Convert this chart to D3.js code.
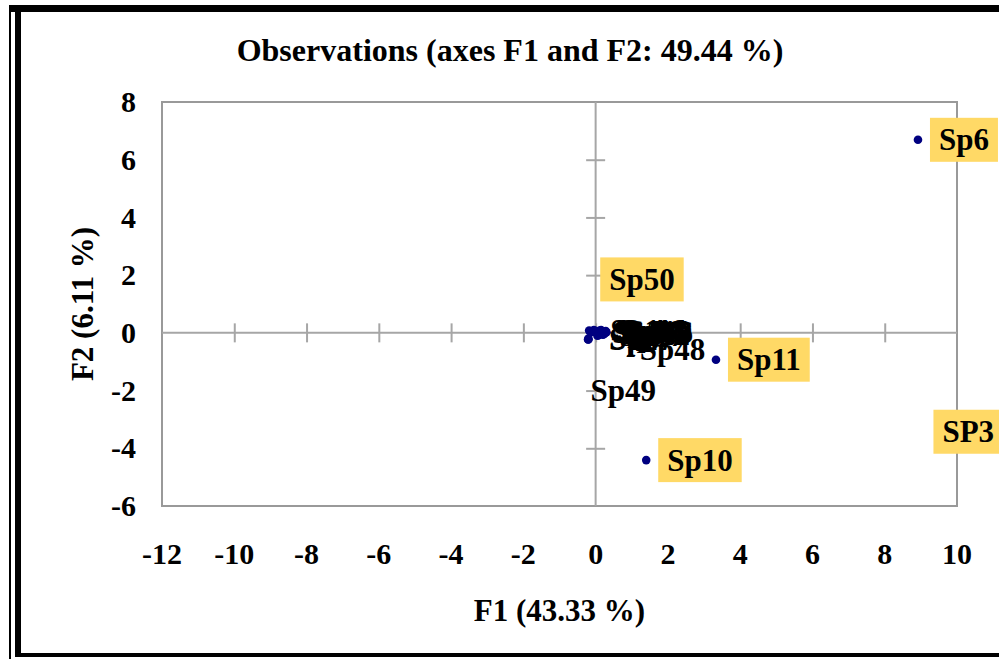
<!DOCTYPE html>
<html>
<head>
<meta charset="utf-8">
<script src="https://cdn.jsdelivr.net/npm/d3@7"></script>
<style>
  html, body { margin: 0; padding: 0; background: #fff; }
  svg { display: block; }
  text { font-family: "Liberation Serif", "Times New Roman", serif; font-weight: bold; fill: #000; }
</style>
</head>
<body>
<svg id="chart" width="999" height="659"></svg>
<script>
// Observations on the first factorial plane (F1 x F2)
const species = ["Sp6", "Sp11", "Sp10", "SP3", "Sp50", "Sp49", "Sp48",
                 "Sp1", "Sp2", "Sp4", "Sp5", "Sp7", "Sp8", "Sp9", "Sp12",
                 "Sp14", "Sp15", "Sp16", "Sp17", "Sp18", "Sp19", "Sp20",
                 "Sp46", "Sp47"];
const f1 = [8.92, 3.33, 1.40, 0.05, -0.15, -0.20, 0.20,
            -0.18, -0.12, -0.05, 0.00, 0.05, -0.20, 0.10, 0.22,
            0.12, 0.18, 0.25, 0.08, 0.15, 0.28, 0.03,
            0.30, -0.21];
const f2 = [6.69, -0.93, -4.41, -0.10, 0.05, -0.23, -0.06,
            0.08, 0.02, 0.10, 0.04, -0.02, -0.20, 0.00, -0.05,
            0.08, 0.05, -0.02, -0.08, 0.10, 0.06, 0.06,
            0.02, -0.23];
// highlighted observations get a coloured label box
const highlighted = ["Sp6", "Sp11", "Sp10", "SP3", "Sp50"];

const xTicks = [-12, -10, -8, -6, -4, -2, 0, 2, 4, 6, 8, 10];
const yTicks = [-6, -4, -2, 0, 2, 4, 6, 8];

const titleText = "Observations (axes F1 and F2: 49.44 %)";
const xTitle = "F1 (43.33 %)";
const yTitle = "F2 (6.11 %)";

// labels that were dragged away from their point (pixel shifts)
const labelShift = {
  "Sp50": [-2, -52],
  "Sp49": [-19, 51],
  "Sp48": [16, 15],
  "SP3": [324, 96]
};

const svg = d3.select("#chart");
const W = 999, H = 659;
const plot = { left: 162, right: 957, top: 102, bottom: 506 };

const x = d3.scaleLinear().domain([-12, 10]).range([plot.left, plot.right]);
const y = d3.scaleLinear().domain([-6, 8]).range([plot.bottom, plot.top]);

// outer frame
svg.append("rect").attr("x", 9).attr("y", 5).attr("width", 2).attr("height", H - 5).attr("fill", "#000");
svg.append("rect").attr("x", 15).attr("y", 5).attr("width", 6).attr("height", 652).attr("fill", "#000");
svg.append("rect").attr("x", 9).attr("y", 5).attr("width", W).attr("height", 7).attr("fill", "#000");
svg.append("rect").attr("x", 15).attr("y", 653).attr("width", W).attr("height", 4).attr("fill", "#000");

// title
svg.append("text")
  .attr("x", 510).attr("y", 61)
  .attr("text-anchor", "middle")
  .style("font-size", "32px")
  .text(titleText);

// plot area border
svg.append("rect")
  .attr("x", plot.left).attr("y", plot.top)
  .attr("width", plot.right - plot.left).attr("height", plot.bottom - plot.top)
  .attr("fill", "none").attr("stroke", "#999").attr("stroke-width", 2);

const axisColor = "#a6a6a6";

// horizontal axis through F2 = 0 with crossing ticks
const xAxis = d3.axisBottom(x).tickValues(xTicks).tickSize(19).tickFormat("");
const gx = svg.append("g").attr("transform", `translate(0,${y(0) - 9.5})`).call(xAxis);
gx.select(".domain").attr("d", `M${plot.left},9.5H${plot.right}`).attr("stroke", axisColor).attr("stroke-width", 2);
gx.selectAll(".tick line").attr("stroke", axisColor).attr("stroke-width", 2);
gx.selectAll(".tick").filter(d => d === -12 || d === 10).remove();

// vertical axis through F1 = 0 with crossing ticks
const yAxis = d3.axisLeft(y).tickValues(yTicks).tickSize(19).tickFormat("");
const gy = svg.append("g").attr("transform", `translate(${x(0) + 9.5},0)`).call(yAxis);
gy.select(".domain").attr("d", `M-9.5,${plot.top}V${plot.bottom}`).attr("stroke", axisColor).attr("stroke-width", 2);
gy.selectAll(".tick line").attr("stroke", axisColor).attr("stroke-width", 2);
gy.selectAll(".tick").filter(d => d === -6 || d === 8).remove();

// tick labels along the plot edges
svg.append("g").selectAll("text").data(xTicks).join("text")
  .attr("x", d => x(d)).attr("y", 564)
  .attr("text-anchor", "middle")
  .style("font-size", "30px")
  .text(d => String(d));

svg.append("g").selectAll("text").data(yTicks).join("text")
  .attr("x", 136).attr("y", d => y(d))
  .attr("dy", "0.34em")
  .attr("text-anchor", "end")
  .style("font-size", "30px")
  .text(d => String(d));

// axis titles
svg.append("text")
  .attr("x", (plot.left + plot.right) / 2).attr("y", 621)
  .attr("text-anchor", "middle")
  .style("font-size", "31px")
  .text(xTitle);

svg.append("text")
  .attr("transform", `translate(93,${(plot.top + plot.bottom) / 2}) rotate(-90)`)
  .attr("text-anchor", "middle")
  .style("font-size", "31px")
  .text(yTitle);

// observations
const obs = species.map((name, i) => ({ name, f1: f1[i], f2: f2[i] }));

svg.append("defs").append("clipPath").attr("id", "plotclip")
  .append("rect").attr("x", plot.left).attr("y", plot.top)
  .attr("width", plot.right - plot.left).attr("height", plot.bottom - plot.top);

svg.append("g").attr("clip-path", "url(#plotclip)")
  .selectAll("circle").data(obs).join("circle")
  .attr("cx", d => x(d.f1)).attr("cy", d => y(d.f2))
  .attr("r", 4.3)
  .attr("fill", "#000080");

// labels: plain ones first, boxed ones on top
const labelLayer = svg.append("g");
const ordered = obs.filter(d => !highlighted.includes(d.name))
  .concat(obs.filter(d => highlighted.includes(d.name)));

ordered.forEach(d => {
  const s = labelShift[d.name] || [0, 0];
  const tx = x(d.f1) + 21 + s[0];
  const ty = y(d.f2) + s[1];
  const g = labelLayer.append("g");
  const t = g.append("text")
    .attr("x", tx).attr("y", ty)
    .attr("dy", "0.34em")
    .style("font-size", "31px")
    .text(d.name);
  if (highlighted.includes(d.name)) {
    const bb = t.node().getBBox();
    g.insert("rect", "text")
      .attr("x", tx - 9).attr("y", ty - 22)
      .attr("width", bb.width + 18).attr("height", 44)
      .attr("fill", "#ffd966");
  }
});
</script>
</body>
</html>
